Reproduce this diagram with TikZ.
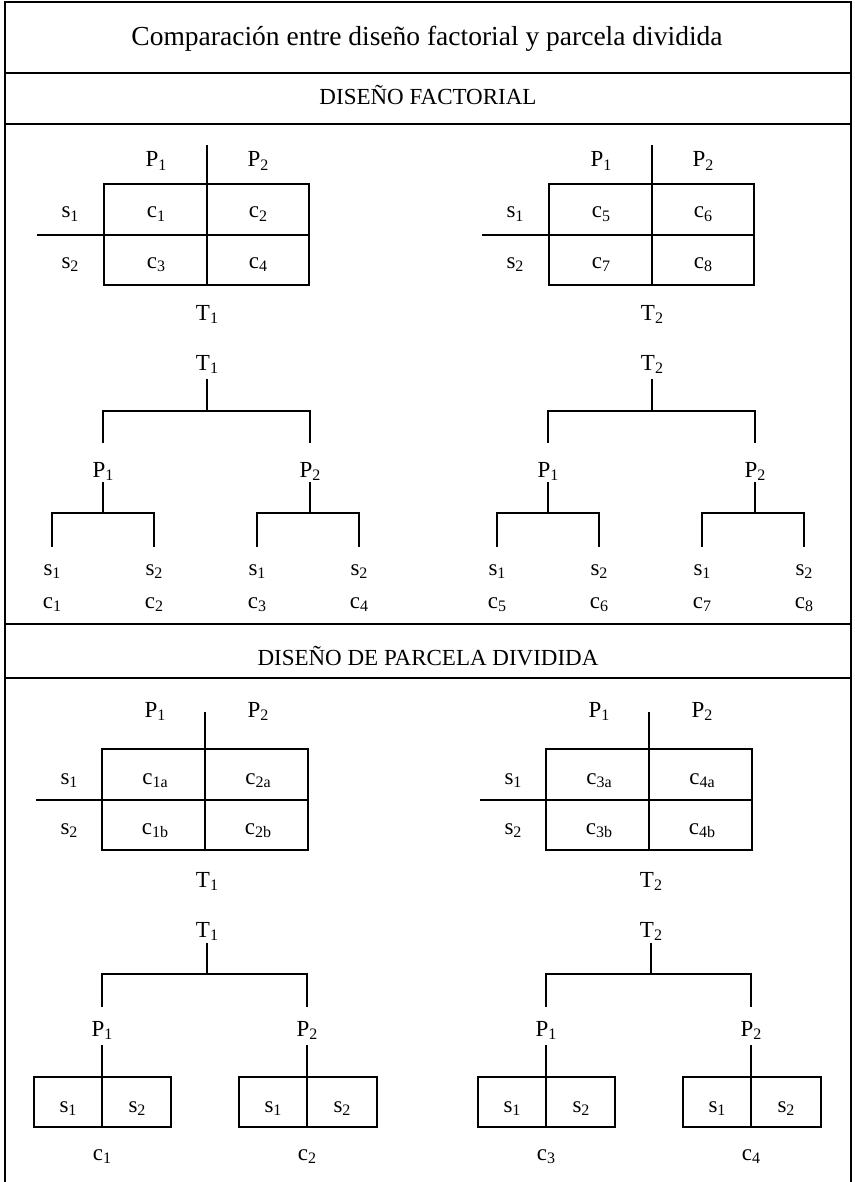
\documentclass[tikz,border=0pt]{standalone}
\usepackage{fontspec}
\setmainfont{Liberation Serif}
\newcommand\sublab[2]{#1\raisebox{-3.8pt}{\fontsize{16}{16}\selectfont #2}}
\tikzset{
  lab/.style={font=\fontsize{23}{25}\selectfont, inner sep=0pt, anchor=base},
  ttl/.style={font=\fontsize{27.5}{30}\selectfont, inner sep=0pt, anchor=base},
  hdg/.style={font=\fontsize{23}{26}\selectfont, inner sep=0pt, anchor=base},
  ln/.style={line width=1.3pt},
  rule/.style={line width=1.9pt},
  frame/.style={line width=2.6pt}
}
% factorial table: #1 prefix, #2 T index, #3-#6 cell texts
\newcommand\factab[6]{%
  \draw[ln] (104,184) rectangle (309,285);
  \coordinate (#1hl) at (37,235);
  \coordinate (#1hr) at (309,235);
  \coordinate (#1vt) at (207,145);
  \coordinate (#1vb) at (207,285);
  \draw[ln] (#1hl) -- (#1hr);
  \draw[ln] (#1vt) -- (#1vb);
  \node[lab] (#1P1) at (156,167) {\sublab{P}{1}};
  \node[lab] (#1P2) at (258,167) {\sublab{P}{2}};
  \node[lab] (#1s1) at (70,218) {\sublab{s}{1}};
  \node[lab] (#1s2) at (70,268) {\sublab{s}{2}};
  \node[lab] (#1ca) at (156,218) {\sublab{c}{#3}};
  \node[lab] (#1cb) at (258,218) {\sublab{c}{#4}};
  \node[lab] (#1cc) at (156,268) {\sublab{c}{#5}};
  \node[lab] (#1cd) at (258,268) {\sublab{c}{#6}};
  \node[lab] (#1T) at (207,320) {\sublab{T}{#2}};
}
% factorial tree
\newcommand\factree[6]{%
  \node[lab] (#1T) at (207,370) {\sublab{T}{#2}};
  \node[lab] (#1P1) at (103,477) {\sublab{P}{1}};
  \node[lab] (#1P2) at (310,477) {\sublab{P}{2}};
  \node[lab] (#1sa) at (52,575) {\sublab{s}{1}};
  \node[lab] (#1sb) at (154,575) {\sublab{s}{2}};
  \node[lab] (#1sc) at (257,575) {\sublab{s}{1}};
  \node[lab] (#1sd) at (359,575) {\sublab{s}{2}};
  \node[lab] (#1ca) at (52,608) {\sublab{c}{#3}};
  \node[lab] (#1cb) at (154,608) {\sublab{c}{#4}};
  \node[lab] (#1cc) at (257,608) {\sublab{c}{#5}};
  \node[lab] (#1cd) at (359,608) {\sublab{c}{#6}};
  \coordinate (#1t0) at (207,379);
  \coordinate (#1t1) at (207,411);
  \coordinate (#1l0) at (103,443);
  \coordinate (#1l1) at (103,411);
  \coordinate (#1r1) at (310,411);
  \coordinate (#1r0) at (310,443);
  \draw[ln] (#1t0) -- (#1t1);
  \draw[ln] (#1l0) -- (#1l1) -- (#1r1) -- (#1r0);
  \coordinate (#1a0) at (103,482);
  \coordinate (#1a1) at (103,513);
  \coordinate (#1b0) at (310,482);
  \coordinate (#1b1) at (310,513);
  \draw[ln] (#1a0) -- (#1a1);
  \draw[ln] (#1b0) -- (#1b1);
  \draw[ln] (52,547) -- (52,513) -- (154,513) -- (154,547);
  \draw[ln] (257,547) -- (257,513) -- (359,513) -- (359,547);
}
% split-plot table
\newcommand\spltab[6]{%
  \draw[ln] (102,749) rectangle (308,850);
  \coordinate (#1hl) at (36,800);
  \coordinate (#1hr) at (308,800);
  \coordinate (#1vt) at (205,712);
  \coordinate (#1vb) at (205,850);
  \draw[ln] (#1hl) -- (#1hr);
  \draw[ln] (#1vt) -- (#1vb);
  \node[lab] (#1P1) at (155,717) {\sublab{P}{1}};
  \node[lab] (#1P2) at (258,717) {\sublab{P}{2}};
  \node[lab] (#1s1) at (69,784) {\sublab{s}{1}};
  \node[lab] (#1s2) at (69,834) {\sublab{s}{2}};
  \node[lab] (#1ca) at (155,784) {\sublab{c}{#3}};
  \node[lab] (#1cb) at (258,784) {\sublab{c}{#4}};
  \node[lab] (#1cc) at (155,834) {\sublab{c}{#5}};
  \node[lab] (#1cd) at (258,834) {\sublab{c}{#6}};
  \node[lab] (#1T) at (207,887) {\sublab{T}{#2}};
}
% split-plot tree
\newcommand\spltree[4]{%
  \node[lab] (#1T) at (207,937) {\sublab{T}{#2}};
  \node[lab] (#1P1) at (102,1036) {\sublab{P}{1}};
  \node[lab] (#1P2) at (307,1036) {\sublab{P}{2}};
  \coordinate (#1t0) at (207,943);
  \coordinate (#1t1) at (207,974);
  \coordinate (#1l0) at (102,1007);
  \coordinate (#1l1) at (102,974);
  \coordinate (#1r1) at (307,974);
  \coordinate (#1r0) at (307,1007);
  \draw[ln] (#1t0) -- (#1t1);
  \draw[ln] (#1l0) -- (#1l1) -- (#1r1) -- (#1r0);
  \draw[ln] (34,1077) rectangle (171,1127);
  \draw[ln] (239,1077) rectangle (377,1127);
  \coordinate (#1a0) at (102,1045);
  \coordinate (#1a1) at (102,1127);
  \coordinate (#1b0) at (307,1045);
  \coordinate (#1b1) at (307,1127);
  \draw[ln] (#1a0) -- (#1a1);
  \draw[ln] (#1b0) -- (#1b1);
  \node[lab] (#1sa) at (68,1112) {\sublab{s}{1}};
  \node[lab] (#1sb) at (137,1112) {\sublab{s}{2}};
  \node[lab] (#1sc) at (273,1112) {\sublab{s}{1}};
  \node[lab] (#1sd) at (342,1112) {\sublab{s}{2}};
  \node[lab] (#1ca) at (102,1160) {\sublab{c}{#3}};
  \node[lab] (#1cb) at (307,1160) {\sublab{c}{#4}};
}
\begin{document}
\begin{tikzpicture}[x=1pt,y=-1pt]
\useasboundingbox (0,0) rectangle (854,1182);
% frame
\draw[frame] (5,1182) -- (5,2) -- (851,2) -- (851,1182);
\draw[rule] (5,73) -- (851,73);
\draw[rule] (5,124) -- (851,124);
\draw[rule] (5,624) -- (851,624);
\draw[rule] (5,678) -- (851,678);
% headings
\node[ttl] (title) at (427,46) {Comparación entre diseño factorial y parcela dividida};
\node[hdg] (hfac) at (428,105) {DISEÑO FACTORIAL};
\node[hdg] (hspl) at (428,665) {DISEÑO DE PARCELA DIVIDIDA};
% factorial design
\factab{fa}{1}{1}{2}{3}{4}
\begin{scope}[shift={(445,0)}]
\factab{fb}{2}{5}{6}{7}{8}
\end{scope}
\factree{ta}{1}{1}{2}{3}{4}
\begin{scope}[shift={(445,0)}]
\factree{tb}{2}{5}{6}{7}{8}
\end{scope}
% split-plot design
\spltab{sa}{1}{1a}{2a}{1b}{2b}
\begin{scope}[shift={(444,0)}]
\spltab{sb}{2}{3a}{4a}{3b}{4b}
\end{scope}
\spltree{ra}{1}{1}{2}
\begin{scope}[shift={(444,0)}]
\spltree{rb}{2}{3}{4}
\end{scope}
\end{tikzpicture}
\end{document}
